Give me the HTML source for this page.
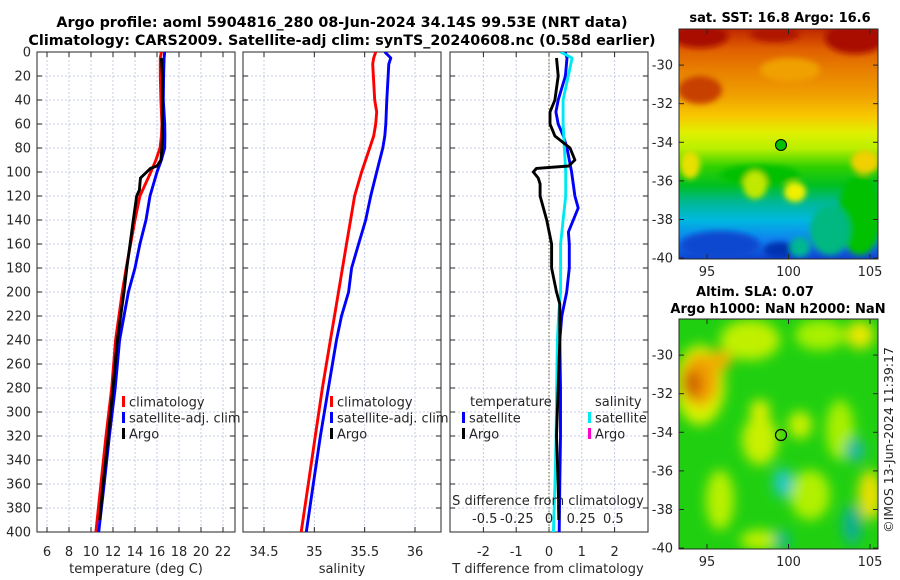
<!DOCTYPE html>
<html><head><meta charset="utf-8">
<style>
body{margin:0;background:#fff;}
svg{display:block;font-family:"DejaVu Sans","Liberation Sans",sans-serif;}
</style></head>
<body>
<svg id="chart" width="900" height="580" viewBox="0 0 900 580">
<defs>
<filter id="blur6" x="-50%" y="-50%" width="200%" height="200%"><feGaussianBlur stdDeviation="6"/></filter>
<filter id="blur3" x="-50%" y="-50%" width="200%" height="200%"><feGaussianBlur stdDeviation="3"/></filter>
<linearGradient id="sstgrad" x1="0" y1="0" x2="0" y2="1">
<stop offset="0" stop-color="#c02800"/><stop offset="0.09" stop-color="#e06000"/>
<stop offset="0.18" stop-color="#e88000"/><stop offset="0.29" stop-color="#f0a000"/>
<stop offset="0.38" stop-color="#f8c800"/><stop offset="0.45" stop-color="#e0f000"/>
<stop offset="0.52" stop-color="#b8f000"/><stop offset="0.6" stop-color="#30d000"/>
<stop offset="0.68" stop-color="#00c020"/><stop offset="0.75" stop-color="#00b890"/>
<stop offset="0.83" stop-color="#00b8e0"/><stop offset="0.92" stop-color="#1080f0"/>
<stop offset="1" stop-color="#1040d0"/>
</linearGradient>
<clipPath id="clipsst"><rect x="679" y="29" width="199" height="230"/></clipPath>
<clipPath id="clipsla"><rect x="679" y="319" width="199" height="230"/></clipPath>
<clipPath id="clipp1"><rect x="37" y="52" width="198" height="480"/></clipPath>
<clipPath id="clipp2"><rect x="243" y="52" width="198" height="480"/></clipPath>
<clipPath id="clipp3"><rect x="450" y="52" width="198" height="480"/></clipPath>
</defs>

<text x="342" y="27" text-anchor="middle" font-size="14.3" font-weight="bold" fill="#000">Argo profile: aoml 5904816_280 08-Jun-2024 34.14S 99.53E (NRT data)</text>
<text x="342" y="45" text-anchor="middle" font-size="14.3" font-weight="bold" fill="#000">Climatology: CARS2009. Satellite-adj clim: synTS_20240608.nc (0.58d earlier)</text>

<g id="p1"></g>
<g id="p2"></g>
<g id="p3"></g>

<g>
<g clip-path="url(#clipsst)">
<rect x="679" y="29" width="199" height="230" fill="url(#sstgrad)"/>
<g filter="url(#blur3)">
<ellipse cx="700" cy="36" rx="28" ry="12" fill="#a81000"/>
<ellipse cx="775" cy="34" rx="25" ry="8" fill="#b01800"/>
<ellipse cx="855" cy="38" rx="30" ry="16" fill="#a81000"/>
<ellipse cx="700" cy="90" rx="22" ry="14" fill="#c84000"/>
<ellipse cx="790" cy="70" rx="30" ry="12" fill="#f0a000"/>
<ellipse cx="690" cy="165" rx="10" ry="14" fill="#e8e000"/>
<ellipse cx="760" cy="175" rx="40" ry="10" fill="#00c000"/>
<ellipse cx="755" cy="185" rx="12" ry="14" fill="#c0e800"/>
<ellipse cx="795" cy="192" rx="11" ry="10" fill="#f0f000"/>
<ellipse cx="865" cy="162" rx="14" ry="12" fill="#f0d000"/>
<ellipse cx="860" cy="215" rx="22" ry="40" fill="#00c000"/>
<ellipse cx="830" cy="230" rx="20" ry="25" fill="#00b880"/>
<ellipse cx="720" cy="245" rx="40" ry="14" fill="#0848d0"/>
<ellipse cx="780" cy="250" rx="16" ry="8" fill="#0030b0"/>
<ellipse cx="800" cy="247" rx="10" ry="10" fill="#00b890"/>
</g>
</g>
<rect x="679" y="29" width="199" height="230" fill="none" stroke="#262626" stroke-width="1"/>
<circle cx="781" cy="145" r="5.5" fill="#00c000" stroke="#000" stroke-width="1"/>
</g>
<text x="780" y="22" text-anchor="middle" font-size="13" font-weight="bold">sat. SST: 16.8 Argo: 16.6</text>

<g>
<g clip-path="url(#clipsla)">
<rect x="679" y="319" width="199" height="230" fill="#20d010"/>
<g filter="url(#blur6)">
<ellipse cx="700" cy="385" rx="25" ry="40" fill="#d8f000"/>
<ellipse cx="750" cy="340" rx="30" ry="20" fill="#c0f000"/>
<ellipse cx="820" cy="335" rx="25" ry="15" fill="#a8f000"/>
<ellipse cx="860" cy="335" rx="14" ry="14" fill="#e8e800"/>
<ellipse cx="700" cy="380" rx="18" ry="26" fill="#f0a000"/>
<ellipse cx="692" cy="384" rx="10" ry="14" fill="#d06000"/>
<ellipse cx="720" cy="360" rx="12" ry="10" fill="#f0b000"/>
<ellipse cx="760" cy="440" rx="18" ry="25" fill="#c8f000"/>
<ellipse cx="800" cy="425" rx="12" ry="14" fill="#c8f000"/>
<ellipse cx="760" cy="410" rx="10" ry="10" fill="#e0f000"/>
<ellipse cx="840" cy="430" rx="14" ry="30" fill="#a8f000"/>
<ellipse cx="720" cy="500" rx="14" ry="30" fill="#b8f000"/>
<ellipse cx="810" cy="495" rx="20" ry="25" fill="#b0f000"/>
<ellipse cx="870" cy="495" rx="12" ry="25" fill="#e8e000"/>
<ellipse cx="760" cy="540" rx="20" ry="10" fill="#c0f000"/>
<ellipse cx="783" cy="483" rx="10" ry="15" fill="#20c8c0"/>
<ellipse cx="855" cy="450" rx="10" ry="12" fill="#20b8a0"/>
<ellipse cx="852" cy="525" rx="10" ry="20" fill="#10b090"/>
<ellipse cx="782" cy="540" rx="8" ry="10" fill="#10b890"/>
</g>
</g>
<rect x="679" y="319" width="199" height="230" fill="none" stroke="#262626" stroke-width="1"/>
<circle cx="781" cy="435" r="5.5" fill="none" stroke="#000" stroke-width="1.2"/>
</g>
<text x="755" y="296" text-anchor="middle" font-size="13" font-weight="bold">Altim. SLA: 0.07</text>
<text x="778" y="313" text-anchor="middle" font-size="13" font-weight="bold">Argo h1000: NaN h2000: NaN</text>
<text transform="translate(893,440) rotate(-90)" text-anchor="middle" font-size="12.5" fill="#262626">©IMOS 13-Jun-2024 11:39:17</text>
<g id="maps-axes"></g>
</svg>

<script>
const depthTicks = [0,20,40,60,80,100,120,140,160,180,200,220,240,260,280,300,320,340,360,380,400];
const tempTicks = [6,8,10,12,14,16,18,20,22];
const salTicks = [34.5,35,35.5,36];
const tdiffTicks = [-2,-1,0,1,2];
const sdiffTicks = [-0.5,-0.25,0,0.25,0.5];
const sdiffTickLabels = ["-0.5","-0.25","0","0.25","0.5"];

const climDepth = [0,5,20,40,60,70,80,90,100,120,140,160,180,200,240,280,320,360,400];
const climTemp  = [16.4,16.3,16.3,16.35,16.45,16.4,16.27,15.9,15.45,14.45,14.0,13.6,13.2,12.85,12.24,11.88,11.36,10.9,10.45];
const satTemp   = [16.7,16.65,16.6,16.57,16.7,16.72,16.7,16.4,16.0,15.36,15.0,14.45,14.0,13.4,12.6,12.2,11.67,11.2,10.7];

const argoDepth = [5,20,40,50,60,70,80,90,95,97,100,105,110,115,120,140,160,180,200,240,280,320,360,390];
const argoTemp  = [16.4,16.5,16.5,16.5,16.5,16.5,16.45,16.35,16.0,15.4,15.06,14.5,14.45,14.4,14.15,13.85,13.55,13.25,13.0,12.4,12.0,11.57,11.1,10.8];

const salDepth = [0,5,10,40,50,60,70,80,100,120,140,160,180,200,220,240,280,320,360,400];
const climSal  = [35.61,35.59,35.58,35.60,35.62,35.61,35.59,35.55,35.47,35.40,35.36,35.32,35.28,35.24,35.20,35.16,35.08,35.01,34.94,34.87];
const satSal   = [35.70,35.76,35.74,35.72,35.715,35.71,35.70,35.68,35.62,35.56,35.51,35.44,35.37,35.34,35.27,35.22,35.14,35.06,34.99,34.92];

const argoDiffDepth = [5,20,40,50,60,70,80,90,95,97,100,105,110,120,140,160,180,200,210,240,280,320,360,390];
const argoTdiff     = [0.23,0.28,0.18,0.03,0.03,0.18,0.64,0.79,0.6,-0.38,-0.48,-0.33,-0.27,-0.27,-0.07,0.08,0.08,0.23,0.33,0.33,0.28,0.23,0.28,0.3];
const satDiffDepth = [0,5,20,40,50,60,70,80,100,120,130,140,150,160,180,200,220,240,280,320,360,400];
const satTdiff     = [0.49,0.55,0.5,0.28,0.21,0.28,0.44,0.55,0.69,0.79,0.89,0.74,0.59,0.62,0.62,0.54,0.39,0.33,0.35,0.35,0.33,0.31];
const satSdiff     = [0.09,0.18,0.15,0.11,0.11,0.11,0.115,0.12,0.13,0.13,0.12,0.11,0.1,0.09,0.09,0.09,0.075,0.065,0.06,0.055,0.047,0.034];

const mapLatTicks = [-30,-32,-34,-36,-38,-40];
const mapLonTicks = [95,100,105];

const NS="http://www.w3.org/2000/svg";
function mk(tag, attrs, parent){const e=document.createElementNS(NS,tag);for(const k in attrs)e.setAttribute(k,attrs[k]);if(parent)parent.appendChild(e);return e;}
const Y0=52, Y1=532;
function yScale(d){return Y0+(d/400)*(Y1-Y0);}
function linScale(d0,d1,r0,r1){return v=>r0+(v-d0)/(d1-d0)*(r1-r0);}

function panel(g, x0, x1, xs, ticks, labels, showY){
  ticks.forEach(t=>{const x=xs(t);const l=mk('line',{x1:x,x2:x,y1:Y0,y2:Y1,stroke:'#c5cbe6','stroke-width':1,'stroke-dasharray':'2,2'},g);
    
    });
  depthTicks.forEach(d=>{const y=yScale(d);const l=mk('line',{x1:x0,x2:x1,y1:y,y2:y,stroke:'#c5cbe6','stroke-width':1,'stroke-dasharray':'2,2'},g);
    
    });
  const fr=mk('rect',{x:x0,y:Y0,width:x1-x0,height:Y1-Y0,fill:'none',stroke:'#262626','stroke-width':1},g);
  
  
  ticks.forEach((t,i)=>{const x=xs(t);
    mk('line',{x1:x,x2:x,y1:Y1,y2:Y1-5,stroke:'#262626'},g);
    mk('line',{x1:x,x2:x,y1:Y0,y2:Y0+5,stroke:'#262626'},g);
    if(labels){const tx=mk('text',{x:x,y:556,'text-anchor':'middle','font-size':13,fill:'#262626'},g);tx.textContent=labels[i];
      
      }
  });
  depthTicks.forEach(d=>{const y=yScale(d);
    mk('line',{x1:x0,x2:x0+5,y1:y,y2:y,stroke:'#262626'},g);
    mk('line',{x1:x1,x2:x1-5,y1:y,y2:y,stroke:'#262626'},g);
    if(showY){const tx=mk('text',{x:31,y:y+4.5,'text-anchor':'end','font-size':13,fill:'#262626'},g);tx.textContent=d;
      
      }
  });
}
function line(g, xs, depths, vals, color, name, clipId){
  const pts=depths.map((d,i)=>xs(vals[i]).toFixed(1)+','+yScale(d).toFixed(1)).join(' ');
  const p=mk('polyline',{points:pts,fill:'none',stroke:color,'stroke-width':2.9,'stroke-linejoin':'round','clip-path':'url(#'+clipId+')'},g);
  
  
}
function legendRow(g,x,y,color,label,name){
  mk('rect',{x:x,y:y-6,width:3,height:11,fill:color},g);
  const t=mk('text',{x:x+7,y:y+4.5,'font-size':13,fill:'#262626'},g);t.textContent=label;
  
  
}
function label(g,x,y,txt,name,anchor){const t=mk('text',{x:x,y:y,'text-anchor':anchor||'middle','font-size':13,fill:'#262626'},g);t.textContent=txt;
  
  }

const g1=document.getElementById('p1');
const xT=linScale(6,22,47,223);
panel(g1,37,235,xT,tempTicks,tempTicks.map(String),true);
line(g1,xT,climDepth,climTemp,'#ff0000','climatology-temp-line','clipp1');
line(g1,xT,climDepth,satTemp,'#0000ff','satellite-temp-line','clipp1');
line(g1,xT,argoDepth,argoTemp,'#000000','argo-temp-line','clipp1');
legendRow(g1,122,402,'#ff0000','climatology','legend-climatology');
legendRow(g1,122,418,'#0000ff','satellite-adj. clim','legend-satellite');
legendRow(g1,122,434,'#000000','Argo','legend-argo');
label(g1,136,573,'temperature (deg C)','x-axis-title-temperature');

const g2=document.getElementById('p2');
const xS=linScale(34.5,36,264,415);
panel(g2,243,441,xS,salTicks,salTicks.map(String),false);
line(g2,xS,salDepth,climSal,'#ff0000','climatology-salinity-line','clipp2');
line(g2,xS,salDepth,satSal,'#0000ff','satellite-salinity-line','clipp2');
legendRow(g2,330,402,'#ff0000','climatology','legend-climatology');
legendRow(g2,330,418,'#0000ff','satellite-adj. clim','legend-satellite');
legendRow(g2,330,434,'#000000','Argo','legend-argo');
label(g2,342,573,'salinity','x-axis-title-salinity');

const g3=document.getElementById('p3');
const xTd=linScale(0,2,549,614.6);
const xSd=linScale(0,0.5,549,613.3);
panel(g3,450,648,xTd,tdiffTicks,tdiffTicks.map(String),false);
mk('line',{x1:xTd(0),x2:xTd(0),y1:Y0,y2:Y1,stroke:'#606030','stroke-width':1,'stroke-dasharray':'1.5,2'},g3);
line(g3,xTd,satDiffDepth,satTdiff,'#0000ff','satellite-tdiff-line','clipp3');
line(g3,xSd,satDiffDepth,satSdiff,'#00e8f0','satellite-sdiff-line','clipp3');
line(g3,xTd,argoDiffDepth,argoTdiff,'#000000','argo-tdiff-line','clipp3');
label(g3,470,406,'temperature','legend-temperature-header','start');
legendRow(g3,462,418,'#0000ff','satellite','legend-temp-satellite');
legendRow(g3,462,434,'#000000','Argo','legend-temp-argo');
label(g3,595,406,'salinity','legend-salinity-header','start');
legendRow(g3,588,418,'#00e8f0','satellite','legend-sal-satellite');
legendRow(g3,588,434,'#ff00cc','Argo','legend-sal-argo');
label(g3,548,505,'S difference from climatology','s-axis-title');
sdiffTicks.forEach((t,i)=>label(g3,xSd(t),523,sdiffTickLabels[i],'s-tick-label'));
label(g3,548,573,'T difference from climatology','x-axis-title-tdiff');

const gm=document.getElementById('maps-axes');
const lonX=linScale(95,105,707,870);
function mapAxes(top,bottom,latTop){
  const latY=v=>top+(latTop-v)*19.3;
  mapLatTicks.forEach(l=>{const y=latY(l);
    mk('line',{x1:679,x2:684,y1:y,y2:y,stroke:'#262626'},gm);
    mk('line',{x1:878,x2:873,y1:y,y2:y,stroke:'#262626'},gm);
    label(gm,673,y+4.5,String(l),'map-lat-tick-label','end');});
  mapLonTicks.forEach(l=>{const x=lonX(l);
    mk('line',{x1:x,x2:x,y1:bottom,y2:bottom-5,stroke:'#262626'},gm);
    mk('line',{x1:x,x2:x,y1:top,y2:top+5,stroke:'#262626'},gm);
    label(gm,x,bottom+17,String(l),'map-lon-tick-label');});
}
mapAxes(29,259,-28.13);
mapAxes(319,549,-28.13);
</script>
</body></html>
